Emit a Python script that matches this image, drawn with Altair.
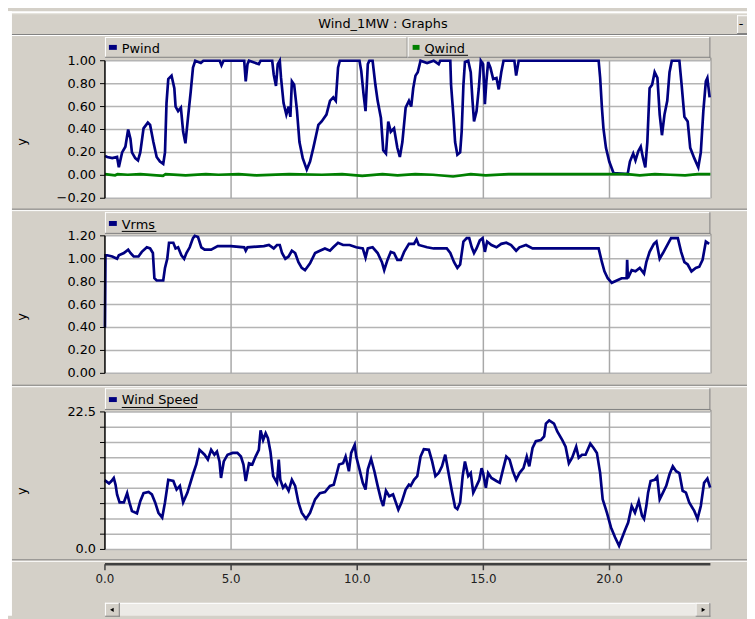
import altair as alt
import pandas as pd

# ---------------- data ----------------
pwind_pts = [(0.0,0.17),(0.09,0.16),(0.29,0.15),(0.48,0.16),(0.55,0.07),(0.68,0.20),(0.81,0.25),(0.92,0.40),(1.01,0.32),(1.07,0.20),(1.20,0.15),(1.31,0.13),(1.40,0.20),(1.53,0.41),(1.70,0.46),(1.79,0.44),(1.92,0.29),(2.05,0.16),(2.18,0.12),(2.31,0.10),(2.38,0.20),(2.44,0.63),(2.51,0.84),(2.64,0.87),(2.75,0.76),(2.80,0.60),(2.90,0.56),(3.01,0.59),(3.10,0.38),(3.19,0.28),(3.29,0.50),(3.40,0.73),(3.49,0.94),(3.58,1.00),(3.80,0.98),(3.90,1.00),(4.55,1.00),(4.62,0.96),(4.70,1.00),(5.52,1.00),(5.58,0.82),(5.65,0.97),(5.71,1.00),(6.10,0.97),(6.17,1.00),(6.63,1.00),(6.69,0.88),(6.78,0.78),(6.85,0.97),(6.93,1.00),(6.98,0.85),(7.08,0.63),(7.19,0.53),(7.28,0.60),(7.35,0.51),(7.41,0.82),(7.50,0.79),(7.61,0.57),(7.71,0.29),(7.84,0.15),(8.00,0.05),(8.13,0.12),(8.26,0.24),(8.37,0.35),(8.46,0.44),(8.59,0.47),(8.78,0.53),(8.92,0.65),(9.05,0.68),(9.15,0.65),(9.24,0.94),(9.31,1.00),(10.09,1.00),(10.16,0.91),(10.25,0.71),(10.33,0.56),(10.42,0.97),(10.48,1.00),(10.61,1.00),(10.72,0.79),(10.81,0.65),(10.94,0.50),(11.03,0.22),(11.14,0.19),(11.23,0.47),(11.33,0.38),(11.46,0.41),(11.59,0.24),(11.69,0.16),(11.79,0.29),(11.92,0.59),(12.05,0.65),(12.14,0.60),(12.22,0.76),(12.31,0.87),(12.40,0.90),(12.51,1.00),(12.77,0.98),(13.03,1.00),(13.23,0.97),(13.29,1.00),(13.69,1.00),(13.72,0.79),(13.82,0.50),(13.88,0.29),(13.97,0.18),(14.08,0.20),(14.14,0.38),(14.21,0.79),(14.27,0.99),(14.40,1.00),(14.50,0.90),(14.57,0.65),(14.63,0.47),(14.73,0.56),(14.82,0.76),(14.90,1.00),(14.99,0.97),(15.06,0.62),(15.12,0.82),(15.19,0.99),(15.28,0.94),(15.39,0.84),(15.52,0.85),(15.61,0.75),(15.71,0.90),(15.80,1.00),(16.23,1.00),(16.30,0.87),(16.40,1.00),(19.57,1.00),(19.63,0.85),(19.70,0.59),(19.76,0.41),(19.86,0.24),(19.99,0.12),(20.16,0.02),(20.72,0.01),(20.81,0.12),(20.94,0.19),(21.03,0.13),(21.14,0.21),(21.24,0.25),(21.33,0.15),(21.42,0.07),(21.50,0.29),(21.59,0.76),(21.69,0.79),(21.79,0.90),(21.90,0.85),(21.99,0.53),(22.08,0.35),(22.18,0.53),(22.29,0.65),(22.38,0.90),(22.47,1.00),(22.77,1.00),(22.86,0.79),(22.97,0.51),(23.10,0.47),(23.20,0.24),(23.36,0.15),(23.52,0.07),(23.62,0.20),(23.72,0.56),(23.82,0.82),(23.88,0.85),(23.97,0.68)]

qwind_pts = [(0.0,0.01),(0.4,0.0),(0.5,0.01),(0.9,0.005),(1.4,0.01),(2.3,-0.005),(2.4,0.01),(3.2,0.0),(4.0,0.01),(4.5,0.005),(5.3,0.01),(6.0,0.0),(7.3,0.01),(8.6,0.005),(9.4,0.01),(10.2,-0.005),(11.0,0.01),(11.6,0.0),(12.3,0.01),(13.0,0.005),(13.8,-0.01),(14.5,0.01),(15.1,0.0),(16.0,0.01),(17.5,0.01),(19.5,0.01),(20.7,0.01),(21.2,0.0),(21.8,0.01),(22.4,0.005),(23.0,0.0),(23.5,0.01),(24.0,0.01)]

vrms_pts = [(0.0,0.40),(0.02,1.03),(0.09,1.03),(0.29,1.02),(0.48,1.00),(0.55,1.03),(0.75,1.05),(0.92,1.08),(1.01,1.05),(1.14,1.02),(1.33,1.02),(1.46,1.06),(1.66,1.10),(1.79,1.09),(1.90,1.05),(1.96,0.83),(2.05,0.81),(2.31,0.81),(2.38,0.92),(2.47,1.00),(2.54,1.14),(2.71,1.14),(2.80,1.09),(2.90,1.10),(3.03,1.03),(3.14,1.00),(3.23,1.05),(3.36,1.10),(3.49,1.18),(3.56,1.20),(3.69,1.19),(3.82,1.10),(3.95,1.08),(4.21,1.08),(4.47,1.11),(4.99,1.11),(5.52,1.10),(5.58,1.07),(5.65,1.10),(6.30,1.11),(6.50,1.12),(6.69,1.09),(6.82,1.12),(6.93,1.12),(7.02,1.05),(7.15,1.00),(7.28,1.02),(7.41,1.07),(7.54,1.05),(7.67,0.97),(7.80,0.92),(7.93,0.90),(8.13,0.96),(8.33,1.05),(8.52,1.07),(8.72,1.09),(8.92,1.07),(9.05,1.10),(9.24,1.14),(9.44,1.12),(9.70,1.12),(9.96,1.10),(10.22,1.09),(10.33,1.01),(10.42,1.09),(10.61,1.10),(10.81,1.05),(10.98,0.97),(11.07,0.90),(11.20,0.99),(11.33,1.06),(11.46,1.05),(11.59,0.99),(11.73,0.99),(11.86,1.06),(12.05,1.13),(12.25,1.13),(12.35,1.17),(12.44,1.12),(12.77,1.10),(13.03,1.09),(13.55,1.09),(13.69,1.05),(13.84,0.97),(13.97,0.92),(14.08,0.95),(14.21,1.15),(14.34,1.18),(14.44,1.18),(14.54,1.10),(14.63,1.05),(14.73,1.09),(14.86,1.16),(14.97,1.18),(15.06,1.06),(15.15,1.15),(15.32,1.12),(15.52,1.10),(15.71,1.13),(15.91,1.14),(16.10,1.12),(16.30,1.07),(16.43,1.10),(16.69,1.12),(16.95,1.09),(18.26,1.09),(19.57,1.09),(19.70,0.97),(19.80,0.89),(19.93,0.83),(20.09,0.79),(20.29,0.81),(20.48,0.83),(20.68,0.83),(20.70,0.99),(20.73,0.83),(20.88,0.90),(21.03,0.89),(21.20,0.92),(21.37,0.87),(21.46,0.97),(21.59,1.06),(21.76,1.13),(21.86,1.15),(21.99,1.00),(22.12,1.05),(22.29,1.12),(22.44,1.18),(22.71,1.18),(22.84,1.06),(22.97,0.97),(23.10,0.95),(23.25,0.89),(23.42,0.92),(23.56,0.93),(23.69,0.99),(23.82,1.15),(23.95,1.13)]

wind_pts = [(0.00,11.0),(0.03,11.2),(0.16,10.8),(0.26,11.2),(0.35,11.7),(0.42,10.6),(0.48,9.0),(0.58,7.7),(0.75,7.7),(0.88,9.2),(0.97,7.7),(1.07,6.3),(1.27,5.9),(1.40,7.9),(1.53,9.2),(1.73,9.4),(1.86,9.0),(1.99,7.7),(2.12,6.0),(2.27,5.2),(2.38,7.7),(2.51,11.4),(2.71,11.2),(2.84,9.8),(2.97,10.4),(3.10,7.7),(3.27,9.3),(3.49,12.3),(3.62,13.9),(3.75,16.3),(3.95,15.5),(4.08,14.7),(4.21,16.3),(4.34,15.5),(4.44,16.0),(4.54,14.4),(4.60,11.7),(4.71,14.4),(4.86,15.5),(5.06,15.8),(5.25,15.8),(5.39,15.2),(5.49,13.9),(5.58,11.2),(5.71,14.1),(5.84,13.9),(5.97,15.2),(6.10,16.3),(6.17,19.5),(6.27,17.9),(6.37,19.0),(6.46,18.2),(6.56,16.0),(6.67,12.0),(6.82,10.9),(6.89,14.7),(6.95,11.4),(7.06,10.1),(7.15,10.6),(7.28,9.6),(7.41,11.4),(7.54,10.4),(7.67,7.7),(7.80,6.0),(7.97,5.0),(8.13,6.0),(8.33,8.2),(8.52,9.2),(8.72,9.4),(8.92,10.4),(9.07,10.6),(9.18,12.3),(9.28,13.9),(9.44,14.1),(9.54,15.2),(9.67,12.8),(9.76,15.8),(9.90,17.1),(9.96,15.2),(10.09,13.1),(10.22,10.9),(10.33,9.8),(10.42,13.1),(10.55,14.8),(10.68,12.8),(10.81,10.4),(10.94,8.2),(11.03,7.1),(11.14,9.6),(11.27,8.7),(11.42,9.0),(11.53,7.7),(11.63,6.5),(11.76,7.7),(11.92,9.8),(12.05,10.6),(12.12,10.4),(12.25,11.4),(12.38,12.0),(12.51,15.2),(12.64,16.4),(12.84,16.3),(12.97,14.4),(13.10,12.0),(13.23,12.5),(13.36,13.6),(13.49,15.5),(13.62,12.5),(13.75,9.6),(13.88,6.9),(13.97,6.6),(14.08,7.7),(14.18,12.0),(14.27,14.4),(14.40,12.0),(14.50,12.5),(14.60,9.3),(14.73,10.4),(14.84,11.4),(14.93,13.3),(14.99,12.5),(15.10,10.1),(15.19,12.5),(15.32,11.7),(15.52,11.2),(15.65,10.9),(15.78,13.1),(15.91,15.2),(16.04,14.7),(16.17,12.8),(16.30,11.4),(16.43,12.5),(16.59,13.3),(16.72,15.2),(16.82,13.6),(16.95,16.6),(17.08,17.7),(17.28,17.9),(17.41,18.5),(17.48,20.6),(17.61,21.1),(17.80,20.6),(17.93,19.3),(18.13,17.9),(18.26,16.8),(18.39,14.1),(18.52,15.0),(18.68,16.8),(18.78,15.0),(18.91,15.5),(19.05,15.5),(19.24,17.3),(19.37,16.6),(19.50,15.8),(19.63,12.5),(19.73,8.2),(19.90,6.0),(20.06,3.6),(20.22,2.0),(20.38,0.6),(20.48,1.7),(20.61,3.1),(20.74,4.4),(20.88,7.1),(21.01,6.0),(21.16,7.9),(21.29,5.5),(21.37,5.0),(21.46,7.1),(21.53,9.3),(21.63,11.2),(21.79,11.4),(21.89,11.9),(21.99,8.2),(22.12,9.3),(22.25,10.4),(22.38,12.3),(22.51,13.6),(22.64,12.8),(22.77,12.5),(22.90,9.6),(23.03,9.3),(23.16,7.7),(23.36,6.3),(23.49,5.0),(23.62,7.1),(23.75,10.9),(23.88,11.6),(23.99,10.1)]

x_domain = [0, 24]
x_ticks = [0, 5, 10, 15, 20]
top_domain = [-0.2, 1.0]
top_ticks = [-0.2, 0.0, 0.2, 0.4, 0.6, 0.8, 1.0]
mid_domain = [0.0, 1.2]
mid_ticks = [0.0, 0.2, 0.4, 0.6, 0.8, 1.0, 1.2]
bot_domain = [0.0, 22.5]
bot_ticks = [0.0, 2.5, 5.0, 7.5, 10.0, 12.5, 15.0, 17.5, 20.0, 22.5]
bot_labels = [0.0, 22.5]

window_title = "Wind_1MW : Graphs"

# ---------------- styling ----------------
FONT = "DejaVu Sans"
GRAY = "#D4D0C8"
DARK = "#808080"
NAVY = "#000080"
GREEN = "#008000"
GRID = "#B4B4B4"
O = 8  # page margin

one = pd.DataFrame({"k": [0]})


def V(p):
    return alt.value(p - O)


def rect(x1, y1, x2, y2, fill):
    return alt.Chart(one).mark_rect(fill=fill).encode(x=V(x1), x2=V(x2), y=V(y1), y2=V(y2))


def hline(x1, x2, y, color, w=1):
    return alt.Chart(one).mark_rule(color=color, strokeWidth=w).encode(x=V(x1), x2=V(x2), y=V(y))


def vline(x, y1, y2, color, w=1):
    return alt.Chart(one).mark_rule(color=color, strokeWidth=w).encode(x=V(x), y=V(y1), y2=V(y2))


def label(x, y, s, size=13, align="left", angle=0, color="black"):
    return alt.Chart(one).mark_text(text=s, align=align, baseline="middle", font=FONT,
                                    fontSize=size, color=color, angle=angle).encode(x=V(x), y=V(y))


def bevel(x1, y1, x2, y2, fill=GRAY):
    return [rect(x1, y1, x2, y2, fill),
            hline(x1, x2, y1 + 0.5, "white"), vline(x1 + 0.5, y1, y2, "white"),
            hline(x1, x2, y2 - 0.5, DARK), vline(x2 - 0.5, y1, y2, DARK)]


deco = []
# white page border strips
deco.append(rect(8, 8, 12, 619, "white"))
deco.append(rect(8, 8, 755, 10, "white"))
# window title bar
deco.append(hline(12, 755, 10.5, "#E8E6E0"))
deco.append(hline(12, 755, 31.5, DARK))
deco.append(hline(12, 755, 32.5, "white"))
deco.append(label(387, 21, window_title, 13, "center"))
deco += bevel(745, 12, 760, 31)
deco.append(label(749, 21, "-", 13, "center"))

# panel header bars with legends
deco += bevel(106, 34, 412, 55)
deco += bevel(412, 34, 718, 55)
deco.append(rect(110, 42, 118, 47, NAVY))
deco.append(label(123, 46, "Pwind"))
deco.append(rect(417, 42, 424, 47, GREEN))
deco.append(label(429, 46, "Qwind"))
deco.append(hline(429, 473, 52.5, "black"))

deco += bevel(106, 211, 718, 233)
deco.append(rect(110, 220, 118, 225, NAVY))
deco.append(label(123, 224, "Vrms"))
deco.append(hline(123, 158, 230.5, "black"))

deco += bevel(106, 389, 718, 411)
deco.append(rect(110, 398, 118, 403, NAVY))
deco.append(label(123, 401, "Wind Speed"))
deco.append(hline(123, 199, 408.5, "black"))

# panel separators
for yy in (208, 386, 562.5):
    deco.append(hline(12, 755, yy, DARK))
    deco.append(hline(12, 755, yy + 1.5, "white"))

# right frame lines of plots
for (ya, yb) in ((55, 197), (233, 374), (411, 552)):
    deco.append(vline(718.5, ya, yb, DARK))

# y titles
deco.append(label(22, 140, "y", 13, "center", 270))
deco.append(label(22, 317, "y", 13, "center", 270))
deco.append(label(22, 493, "y", 13, "center", 270))

# scrollbar
deco.append(rect(106, 606, 718, 619, "#ECEAE6"))
deco.append(hline(106, 718, 606.5, "white"))
deco += bevel(106, 606, 121, 620)
deco += bevel(703, 606, 718, 620)
deco.append(alt.Chart(one).mark_point(shape="triangle-left", filled=True, color="black", size=18, opacity=1)
            .encode(x=V(113), y=V(613)))
deco.append(alt.Chart(one).mark_point(shape="triangle-right", filled=True, color="black", size=18, opacity=1)
            .encode(x=V(711), y=V(613)))

XS = alt.Scale(domain=x_domain, range=[106 - O, 718 - O], nice=False, zero=False)


def panel(series, ydom, yrange_page, yticks, ylabels, fmt, show_x=False):
    ys = alt.Scale(domain=ydom, range=[yrange_page[0] - O, yrange_page[1] - O], nice=False, zero=False)
    bg_df = pd.DataFrame({"x0": [x_domain[0]], "x1": [x_domain[1]], "y0": [ydom[0]], "y1": [ydom[1]]})
    bg = alt.Chart(bg_df).mark_rect(fill="white").encode(
        x=alt.X("x0:Q", scale=XS, axis=None), x2="x1:Q",
        y=alt.Y("y0:Q", scale=ys, axis=None), y2="y1:Q")
    hg_df = pd.DataFrame({"v": yticks, "x0": x_domain[0], "x1": x_domain[1]})
    hgrid = alt.Chart(hg_df).mark_rule(color=GRID, strokeWidth=1.5).encode(
        x=alt.X("x0:Q", scale=XS, axis=None), x2="x1:Q", y=alt.Y("v:Q", scale=ys, axis=None))
    vg_df = pd.DataFrame({"t": x_ticks[1:], "y0": ydom[0], "y1": ydom[1]})
    vgrid = alt.Chart(vg_df).mark_rule(color="#A8A8A8", strokeWidth=1.5).encode(
        x=alt.X("t:Q", scale=XS, axis=None), y=alt.Y("y0:Q", scale=ys, axis=None), y2="y1:Q")
    # y axis drawn from marks through the panel's y scale
    ydomain_line = alt.Chart(bg_df).mark_rule(color="black", strokeWidth=1.5).encode(
        x=V(106), y=alt.Y("y0:Q", scale=ys, axis=None), y2="y1:Q")
    yticks_m = alt.Chart(pd.DataFrame({"v": yticks})).mark_rule(color="black", strokeWidth=1).encode(
        x=V(101), x2=V(106), y=alt.Y("v:Q", scale=ys, axis=None))
    ylabels_m = alt.Chart(pd.DataFrame({"v": ylabels})).mark_text(
        align="right", baseline="middle", font=FONT, fontSize=13, color="black").encode(
        x=V(97), y=alt.Y("v:Q", scale=ys, axis=None), text=alt.Text("v:Q", format=fmt))
    layers = [bg, hgrid, vgrid]
    for pts, color in series:
        df = pd.DataFrame(pts, columns=["t", "v"])
        layers.append(alt.Chart(df).mark_line(color=color, strokeWidth=2.7).encode(
            x=alt.X("t:Q", scale=XS, axis=None), y=alt.Y("v:Q", scale=ys, axis=None)))
    layers += [ydomain_line, yticks_m, ylabels_m]
    if show_x:
        xline_df = pd.DataFrame({"x0": [x_domain[0]], "x1": [x_domain[1]]})
        layers.append(alt.Chart(xline_df).mark_rule(color="#404040", strokeWidth=2.5).encode(
            x=alt.X("x0:Q", scale=XS, axis=None), x2="x1:Q", y=V(567)))
        xt_df = pd.DataFrame({"t": x_ticks})
        layers.append(alt.Chart(xt_df).mark_rule(color="#404040", strokeWidth=1.5).encode(
            x=alt.X("t:Q", scale=XS, axis=None), y=V(567), y2=V(573)))
        layers.append(alt.Chart(xt_df).mark_text(
            align="center", baseline="middle", font=FONT, fontSize=12, color="#202020").encode(
            x=alt.X("t:Q", scale=XS, axis=None), y=V(582), text=alt.Text("t:Q", format=".1f")))
    return alt.layer(*layers)


top = panel([(pwind_pts, NAVY), (qwind_pts, GREEN)], top_domain, (197, 58), top_ticks, top_ticks, ".2f")
mid = panel([(vrms_pts, NAVY)], mid_domain, (374, 235), mid_ticks, mid_ticks, ".2f")
bot = panel([(wind_pts, NAVY)], bot_domain, (552, 413), bot_ticks, bot_labels, ".1f", show_x=True)

chart = (
    alt.layer(*deco, top, mid, bot)
    .resolve_scale(y="independent")
    .properties(width=747, height=611, padding=0, background=GRAY,
                autosize=alt.AutoSizeParams(type="none"))
    .configure_view(stroke=None)
)

chart.save("out.html", embed_options={"renderer": "svg", "actions": False})
